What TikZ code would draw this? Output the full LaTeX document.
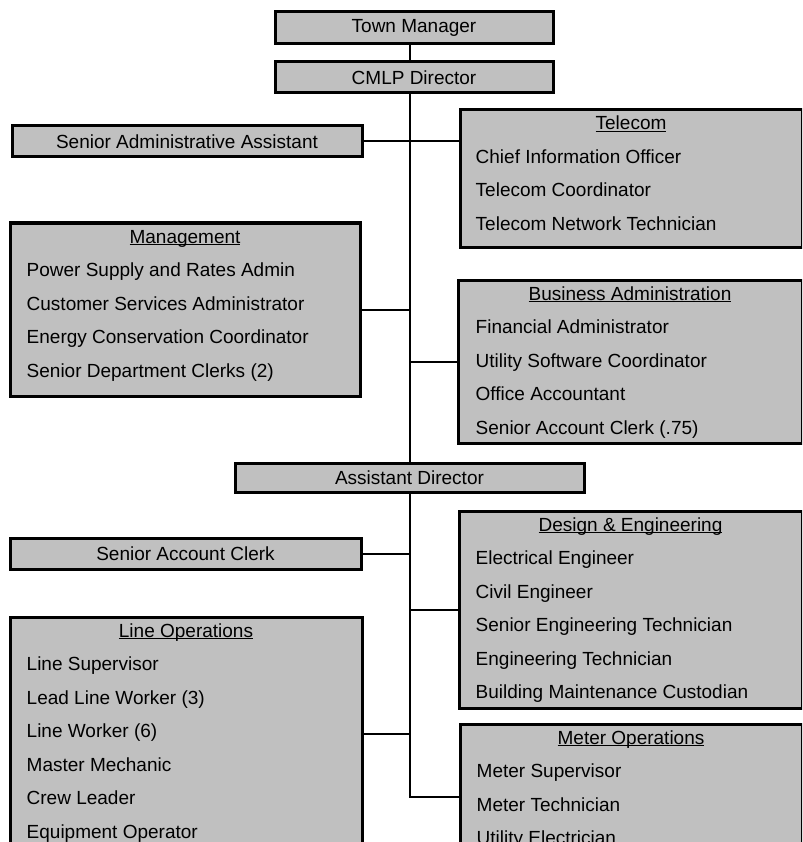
\documentclass[tikz,border=0pt]{standalone}
\usepackage{fontspec}
\setmainfont{Liberation Sans}
\usetikzlibrary{positioning,calc}
\definecolor{boxgray}{HTML}{C0C0C0}
\newcommand{\headtext}[1]{\underline{\raisebox{0pt}[\height][0pt]{#1}}}

\begin{document}
\begin{tikzpicture}[
    x=1pt, y=-1pt,
    font=\fontsize{19}{22}\selectfont,
    unit/.style={draw, line width=3pt, fill=boxgray, inner sep=0pt, anchor=north west},
    link/.style={line width=2pt},
    head/.style={inner sep=0pt, anchor=base},
    item/.style={inner sep=0pt, anchor=base west}
]
\useasboundingbox (0,0) rectangle (802,842);
\clip (0,0) rectangle (802,842);

% --- top of the chart ---
\node[unit, minimum width=278pt, minimum height=32pt] (town) at (273.5,10.5) {Town Manager};
\node[unit, minimum width=278pt, minimum height=31pt] (cmlp) at (273.5,60.5) {CMLP Director};
\node[unit, minimum width=350pt, minimum height=31pt] (saa) at (10.5,124.5) {Senior Administrative Assistant};
\node[unit, minimum width=349pt, minimum height=29pt] (asst) at (233.5,461.5) {Assistant Director};
\node[unit, minimum width=351pt, minimum height=31pt] (sac) at (8.5,536.5) {Senior Account Clerk};

% --- group boxes ---
\node[unit, minimum width=342pt, minimum height=137pt] (telecom) at (458.5,108.5) {};
\node[unit, minimum width=350pt, minimum height=173pt] (mgmt) at (8.5,221.5) {};
\node[unit, minimum width=344pt, minimum height=163pt] (biz) at (456.5,278.5) {};
\node[unit, minimum width=343pt, minimum height=197pt] (design) at (457.5,509.5) {};
\node[unit, minimum width=352pt, minimum height=233pt] (lineops) at (8.5,615.5) {};
\node[unit, minimum width=342pt, minimum height=145pt] (meterops) at (458.5,722.5) {};

% titles
\node[head] (telecom-t) at ($(telecom.north)+(0,21.5)$) {\headtext{Telecom}};
\node[head] (mgmt-t) at ($(mgmt.north)+(0,21.5)$) {\headtext{Management}};
\node[head] (biz-t) at ($(biz.north)+(0,21.5)$) {\headtext{Business Administration}};
\node[head] (design-t) at ($(design.north)+(0,21.5)$) {\headtext{Design \& Engineering}};
\node[head] (lineops-t) at ($(lineops.north)+(0,21.5)$) {\headtext{Line Operations}};
\node[head] (meterops-t) at ($(meterops.north)+(0,21.5)$) {\headtext{Meter Operations}};

% staff lists
\foreach \job [count=\i] in {Chief Information Officer, Telecom Coordinator, Telecom Network Technician}
  \node[item] (telecom-\i) at ($(telecom.north west)+(17,21.5+33.5*\i)$) {\job};
\foreach \job [count=\i] in {Power Supply and Rates Admin, Customer Services Administrator,
    Energy Conservation Coordinator, Senior Department Clerks (2)}
  \node[item] (mgmt-\i) at ($(mgmt.north west)+(18,21.5+33.5*\i)$) {\job};
\foreach \job [count=\i] in {Financial Administrator, Utility Software Coordinator,
    Office Accountant, Senior Account Clerk (.75)}
  \node[item] (biz-\i) at ($(biz.north west)+(19,21.5+33.5*\i)$) {\job};
\foreach \job [count=\i] in {Electrical Engineer, Civil Engineer, Senior Engineering Technician,
    Engineering Technician, Building Maintenance Custodian}
  \node[item] (design-\i) at ($(design.north west)+(18,21.5+33.5*\i)$) {\job};
\foreach \job [count=\i] in {Line Supervisor, Lead Line Worker (3), Line Worker (6),
    Master Mechanic, Crew Leader, Equipment Operator}
  \node[item] (lineops-\i) at ($(lineops.north west)+(18,21.5+33.5*\i)$) {\job};
\foreach \job [count=\i] in {Meter Supervisor, Meter Technician, Utility Electrician}
  \node[item] (meterops-\i) at ($(meterops.north west)+(18,21.5+33.5*\i)$) {\job};

% --- connectors ---
\draw[link] (town.south -| asst.north) -- (cmlp.north -| asst.north);
\draw[link] (cmlp.south -| asst.north) -- (asst.north);
\draw[link] (saa.east) -- (saa.east -| telecom.west);
\draw[link] (mgmt.east) -- (mgmt.east -| asst.north);
\draw[link] (biz.west -| asst.north) -- (biz.west);
\draw[link] (asst.south) |- (meterops.west);
\draw[link] (sac.east) -- (sac.east -| asst.south);
\draw[link] (design.west -| asst.south) -- (design.west);
\draw[link] (lineops.east) -- (lineops.east -| asst.south);

\end{tikzpicture}
\end{document}
